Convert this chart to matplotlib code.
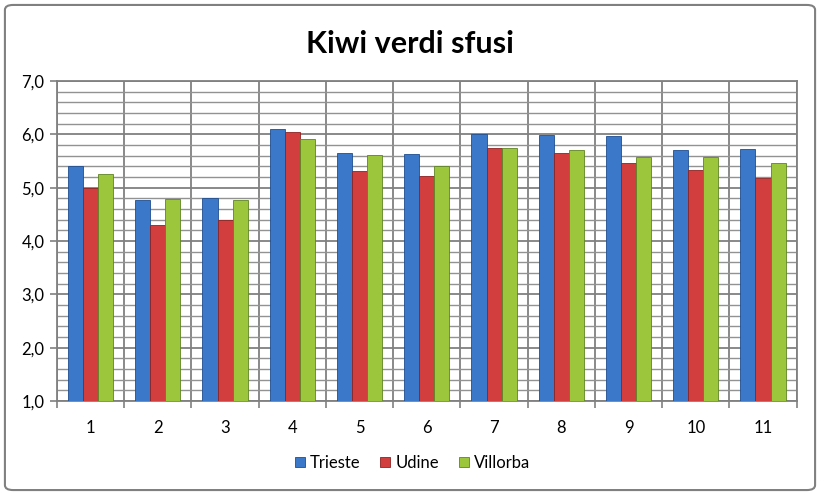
import matplotlib.pyplot as plt
import numpy as np
from matplotlib.patches import FancyBboxPatch
from matplotlib.ticker import MultipleLocator, FixedLocator, FuncFormatter

# Dati
categorie = ['1', '2', '3', '4', '5', '6', '7', '8', '9', '10', '11']
trieste = [5.41, 4.77, 4.81, 6.10, 5.66, 5.64, 6.01, 5.99, 5.97, 5.70, 5.73]
udine = [5.00, 4.30, 4.39, 6.04, 5.32, 5.22, 5.75, 5.66, 5.47, 5.33, 5.19]
villorba = [5.25, 4.78, 4.77, 5.91, 5.61, 5.40, 5.74, 5.70, 5.58, 5.57, 5.47]
serie = ['Trieste', 'Udine', 'Villorba']

colori = ['#3b78c9', '#d23d3d', '#9cc73d']
bordi = ['#1f4f8f', '#8f2222', '#5f8424']

plt.rcParams['font.family'] = ['Lato', 'DejaVu Sans']

fig = plt.figure(figsize=(8.2, 4.95), dpi=100)
ax = fig.add_axes([0.0695, 0.19, 0.902, 0.646])

x = np.arange(len(categorie))
w = 0.224
base = 1.0
for i, (vals, nome) in enumerate(zip([trieste, udine, villorba], serie)):
    vals = np.array(vals)
    ax.bar(x + (i - 1) * w, vals - base, width=w, bottom=base,
           color=colori[i], edgecolor=bordi[i], linewidth=0.6,
           label=nome, zorder=3)

ax.set_xlim(-0.5, len(categorie) - 0.5)
ax.set_ylim(1, 7)

# griglia
ax.yaxis.set_major_locator(MultipleLocator(1))
ax.yaxis.set_minor_locator(MultipleLocator(0.2))
ax.yaxis.set_major_formatter(FuncFormatter(lambda v, p: f'{v:.1f}'.replace('.', ',')))
ax.set_xticks(x)
ax.set_xticklabels(categorie)
ax.xaxis.set_minor_locator(FixedLocator(np.arange(-0.5, len(categorie), 1)))

ax.grid(True, which='major', axis='y', color='#808080', linewidth=1.3, zorder=0)
ax.grid(True, which='minor', axis='y', color='#929292', linewidth=1.0, zorder=0)
ax.grid(True, which='minor', axis='x', color='#808080', linewidth=1.3, zorder=0)

ax.tick_params(axis='x', which='major', length=0, pad=14, labelsize=12)
ax.tick_params(axis='x', which='minor', length=5, color='#808080', width=1.2)
ax.tick_params(axis='y', which='major', length=5, color='#808080', width=1.2, labelsize=12, pad=4)
ax.tick_params(axis='y', which='minor', length=0)

for s in ax.spines.values():
    s.set_color('#808080')
    s.set_linewidth(1.3)

fig.text(0.5, 0.912, 'Kiwi verdi sfusi', ha='center', va='center',
         fontsize=22, fontweight='bold')

ax.legend(loc='center', bbox_to_anchor=(0.503, 0.065), bbox_transform=fig.transFigure,
          ncol=3, frameon=False, fontsize=12, handlelength=0.6, handleheight=0.6,
          handletextpad=0.3, columnspacing=1.2)

bordo = FancyBboxPatch((0.006, 0.01), 0.988, 0.98, boxstyle='round,pad=0,rounding_size=0.01',
                       transform=fig.transFigure, fill=False, edgecolor='#808080',
                       linewidth=1.5)
fig.patches.append(bordo)

fig.savefig('out.png', dpi=100)
